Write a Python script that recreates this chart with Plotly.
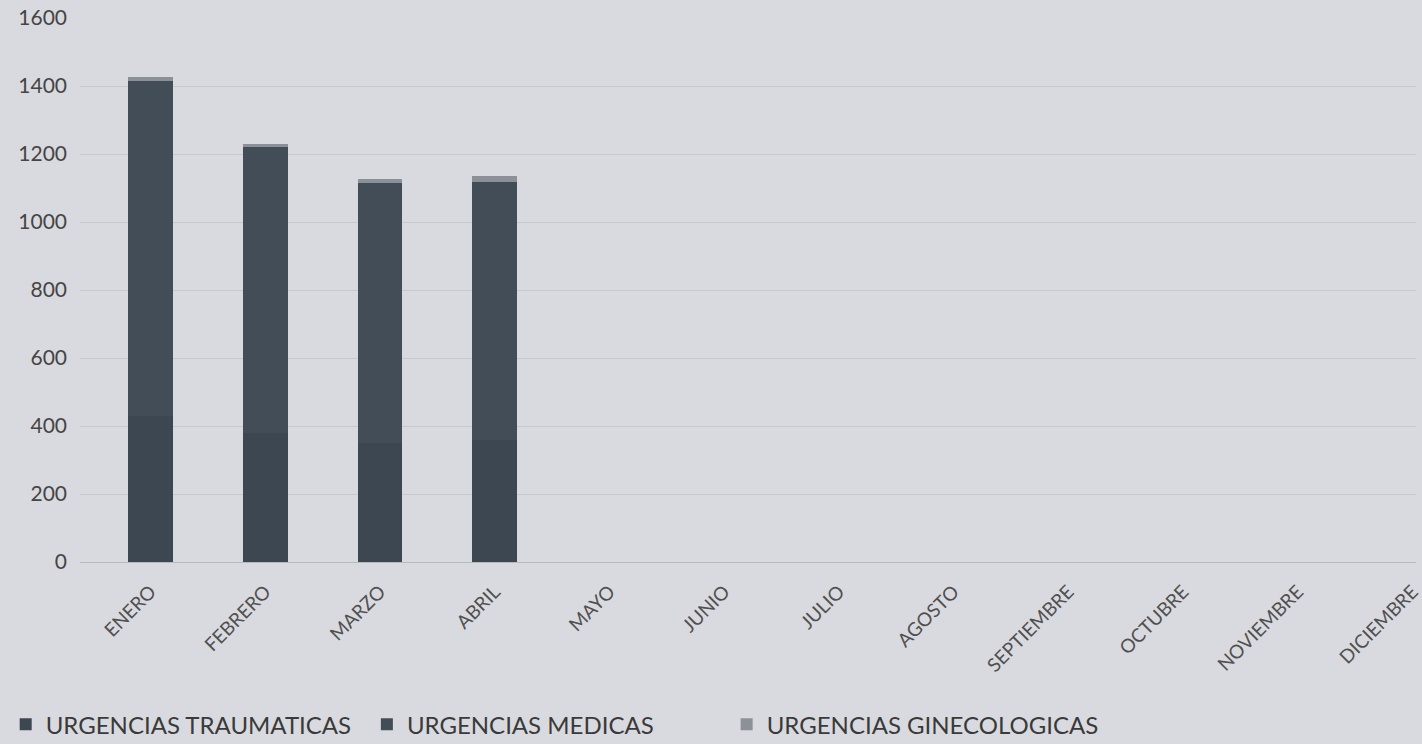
import plotly.graph_objects as go

# ============================================================
# DATA
# ============================================================
months = ["ENERO", "FEBRERO", "MARZO", "ABRIL", "MAYO", "JUNIO", "JULIO",
          "AGOSTO", "SEPTIEMBRE", "OCTUBRE", "NOVIEMBRE", "DICIEMBRE"]

traumaticas = [430, 380, 350, 360, None, None, None, None, None, None, None, None]
medicas = [986, 841, 766, 757, None, None, None, None, None, None, None, None]
ginecologicas = [10, 8, 10, 18, None, None, None, None, None, None, None, None]

y_ticks = [0, 200, 400, 600, 800, 1000, 1200, 1400, 1600]

BG = "#d9dadf"
FONT = "Lato, Open Sans, sans-serif"

# ============================================================
# FIGURE
# ============================================================
fig = go.Figure()

# one legend per series so each entry sits where the reference has it
series = [
    ("URGENCIAS TRAUMATICAS", traumaticas, "#3d4751", "legend", 0.004),
    ("URGENCIAS MEDICAS", medicas, "#434d57", "legend2", 0.258),
    ("URGENCIAS GINECOLOGICAS", ginecologicas, "#8c9197", "legend3", 0.511),
]
legend_style = dict(
    orientation="h",
    xref="container", xanchor="left",
    yref="container", y=0.026, yanchor="middle",
    font=dict(size=24, color="#3a3a3a"),
    bgcolor="rgba(0,0,0,0)",
)
legends = {}
for name, vals, color, leg, lx in series:
    fig.add_trace(go.Bar(
        x=months,
        y=vals,
        name=name,
        legend=leg,
        marker=dict(color=color, line=dict(width=0)),
    ))
    legends[leg] = dict(legend_style, x=lx)

fig.update_layout(
    barmode="stack",
    bargap=0.61,
    width=1422,
    height=744,
    margin=dict(l=80, r=0, t=18, b=182),
    paper_bgcolor=BG,
    plot_bgcolor=BG,
    font=dict(family=FONT, color="#454545"),
    showlegend=True,
    **legends,
)

fig.update_xaxes(
    range=[-0.615, 11.03],
    tickangle=-45,
    tickfont=dict(size=19, color="#505050"),
    ticklabelstandoff=14,
    showgrid=False,
    showline=False,
    ticks="",
)
fig.update_yaxes(
    range=[0, 1600],
    tickvals=y_ticks,
    tickfont=dict(size=21, color="#454545"),
    gridcolor="#c8c9cd",
    gridwidth=1,
    zeroline=True,
    zerolinecolor="#b8b9bd",
    zerolinewidth=1,
    ticklabelstandoff=12,
)

fig.write_html(
    "out.html",
    config={"displayModeBar": False},
    post_script="document.body.style.margin='0';document.body.style.background='%s';" % BG,
)
